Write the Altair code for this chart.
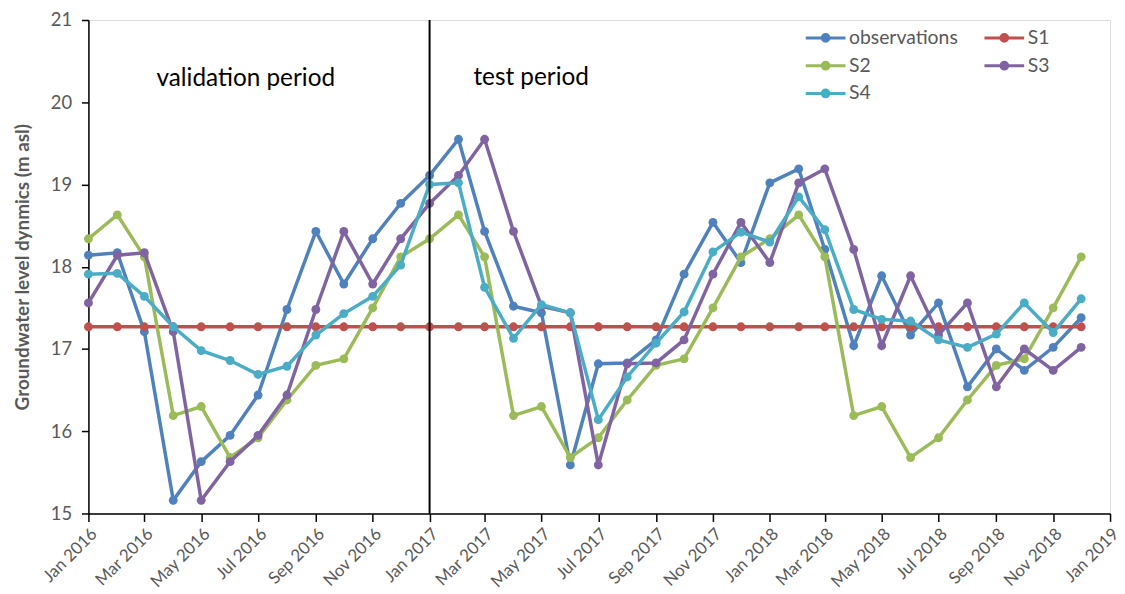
import altair as alt
import pandas as pd

# ---- data -------------------------------------------------------------
months = [f"{y}-{m:02d}-01T00:00:00Z" for y in (2016, 2017, 2018) for m in range(1, 13)]

series_names = ["observations", "S1", "S2", "S3", "S4"]
series_colors = ["#4F81BD", "#C0504D", "#9BBB59", "#8064A2", "#4BACC6"]

observations = [18.14, 18.17, 17.21, 15.16, 15.63, 15.95, 16.44, 17.48, 18.43, 17.79, 18.34, 18.77,
                19.11, 19.55, 18.43, 17.52, 17.44, 15.59, 16.82, 16.83, 17.11, 17.91, 18.54, 18.05,
                19.02, 19.19, 18.21, 17.04, 17.89, 17.17, 17.56, 16.54, 17.00, 16.74, 17.02, 17.38]
s1 = [17.27, 17.27, 17.27, 17.27, 17.27, 17.27, 17.27, 17.27, 17.27, 17.27, 17.27, 17.27,
      17.27, 17.27, 17.27, 17.27, 17.27, 17.27, 17.27, 17.27, 17.27, 17.27, 17.27, 17.27,
      17.27, 17.27, 17.27, 17.27, 17.27, 17.27, 17.27, 17.27, 17.27, 17.27, 17.27, 17.27]
s2 = [18.34, 18.63, 18.12, 16.19, 16.30, 15.68, 15.92, 16.38, 16.80, 16.88, 17.50, 18.12,
      18.34, 18.63, 18.12, 16.19, 16.30, 15.68, 15.92, 16.38, 16.80, 16.88, 17.50, 18.12,
      18.34, 18.63, 18.12, 16.19, 16.30, 15.68, 15.92, 16.38, 16.80, 16.88, 17.50, 18.12]
s3 = [17.56, 18.14, 18.17, 17.21, 15.16, 15.63, 15.95, 16.44, 17.48, 18.43, 17.79, 18.34,
      18.77, 19.11, 19.55, 18.43, 17.52, 17.44, 15.59, 16.82, 16.83, 17.11, 17.91, 18.54,
      18.05, 19.02, 19.19, 18.21, 17.04, 17.89, 17.17, 17.56, 16.54, 17.00, 16.74, 17.02]
s4 = [17.91, 17.92, 17.64, 17.27, 16.98, 16.86, 16.69, 16.79, 17.17, 17.43, 17.64, 18.02,
      19.00, 19.02, 17.75, 17.13, 17.54, 17.44, 16.14, 16.66, 17.07, 17.45, 18.18, 18.42,
      18.30, 18.85, 18.45, 17.48, 17.36, 17.34, 17.11, 17.02, 17.18, 17.56, 17.20, 17.61]

x_tick_months = [(2016, 1), (2016, 3), (2016, 5), (2016, 7), (2016, 9), (2016, 11),
                 (2017, 1), (2017, 3), (2017, 5), (2017, 7), (2017, 9), (2017, 11),
                 (2018, 1), (2018, 3), (2018, 5), (2018, 7), (2018, 9), (2018, 11),
                 (2019, 1)]
y_ticks = [15, 16, 17, 18, 19, 20, 21]

divider_date = ["2017-01-01T00:00:00Z"]
period_labels = ["validation period", "test period"]
period_dates = ["2016-03-14T00:00:00Z", "2017-02-17T00:00:00Z"]
period_values = [20.28, 20.30]

# ---- tables -------------------------------------------------------------
rows = []
for name, vals in zip(series_names, [observations, s1, s2, s3, s4]):
    for d, v in zip(months, vals):
        rows.append({"date": d, "value": v, "series": name})
df = pd.DataFrame(rows)

df_div = pd.DataFrame({"date": divider_date})
df_lab = pd.DataFrame({"date": period_dates, "value": period_values, "label": period_labels})

GRAY = "#595959"
FONT = "Lato"

x_scale = alt.Scale(type="utc",
                    domain=[alt.DateTime(year=2016, month=1, date=1, utc=True),
                            alt.DateTime(year=2019, month=1, date=1, utc=True)])
y_scale = alt.Scale(domain=[15, 21], nice=False, zero=False)

x_axis = alt.Axis(values=[alt.DateTime(year=y, month=m, date=1, utc=True) for y, m in x_tick_months],
                  labelExpr="utcFormat(datum.value, '%b %Y')", labelAngle=-45,
                  labelAlign="right", labelBaseline="top",
                  labelFontSize=17, labelColor=GRAY, labelFont=FONT, labelPadding=4,
                  tickSize=8, tickColor="black", tickWidth=1.5,
                  domainColor="black", domainWidth=1.5, grid=False, title=None,
                  labelOverlap=False, labelBound=False, labelFlush=False)
y_axis = alt.Axis(values=y_ticks, format="d", title="Groundwater level dynmics (m asl)",
                  titleFontSize=19, titleFontWeight="bold", titleColor=GRAY, titleFont=FONT,
                  titlePadding=18,
                  labelFontSize=18.5, labelColor=GRAY, labelFont=FONT, labelPadding=10,
                  tickSize=7, tickColor="black", tickWidth=1.5,
                  domainColor="black", domainWidth=1.5, grid=False)

X = alt.X("date:T", scale=x_scale, axis=x_axis)
Y = alt.Y("value:Q", scale=y_scale, axis=y_axis)

SYMBOL = ("M-1,0L1,0 "
          "M-0.17,0A0.17,0.17 0 1,1 0.17,0A0.17,0.17 0 1,1 -0.17,0Z "
          "M-0.07,0A0.07,0.07 0 1,1 0.07,0A0.07,0.07 0 1,1 -0.07,0Z")

legend = alt.Legend(title=None, orient="none", legendX=721, legendY=5, columns=2,
                    direction="horizontal", clipHeight=26,
                    columnPadding=25, rowPadding=2,
                    symbolType=SYMBOL, symbolSize=1600, symbolStrokeWidth=3, symbolOpacity=1,
                    labelFontSize=19.5, labelColor=GRAY, labelFont=FONT, labelOffset=2)

color = alt.Color("series:N", scale=alt.Scale(domain=series_names, range=series_colors),
                  legend=legend)

base = alt.Chart(df)
layers = []
for name in series_names:
    sub = base.transform_filter(alt.datum.series == name)
    line = sub.mark_line(strokeWidth=3.5).encode(x=X, y=Y, color=color)
    pts = sub.mark_circle(size=80, opacity=1).encode(x=X, y=Y, color=color)
    layers += [line, pts]

divider = alt.Chart(df_div).mark_rule(color="black", strokeWidth=2).encode(x=X)
labels = alt.Chart(df_lab).mark_text(align="left", baseline="middle", fontSize=24.5,
                                     font=FONT, color="black").encode(
    x=X, y=Y, text="label:N")

chart = alt.layer(*layers, divider, labels).properties(
    width=1029, height=497,
    autosize=alt.AutoSizeParams(type="none"),
    padding={"left": 81, "top": 10, "right": 7, "bottom": 77},
).configure_view(stroke="#CFCAB0", strokeWidth=1.5).configure(font=FONT)

chart.save("out.html", embed_options={"renderer": "svg", "actions": False})
